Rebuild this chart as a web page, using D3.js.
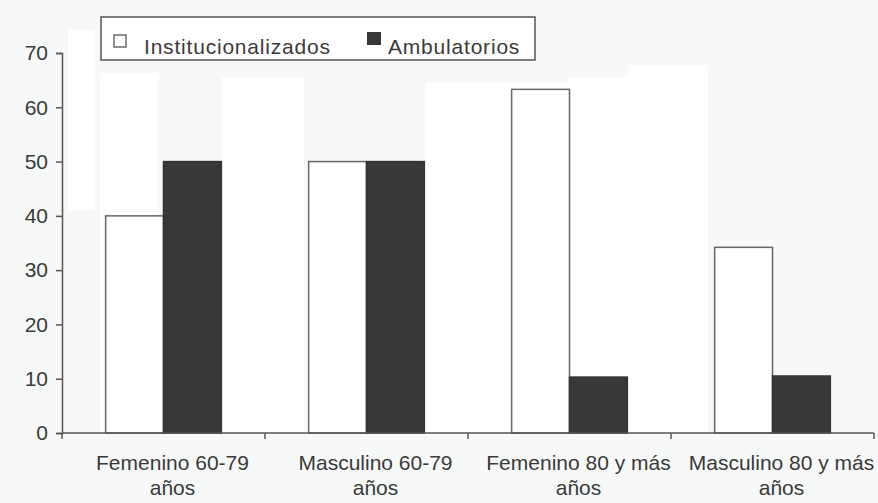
<!DOCTYPE html>
<html><head><meta charset="utf-8">
<script src="https://cdn.jsdelivr.net/npm/d3@7"></script>
<style>body{margin:0;background:#f6f9f7;}svg{display:block;}</style>
</head><body>
<script>
const categories = [["Femenino 60-79","años"],["Masculino 60-79","años"],["Femenino 80 y más","años"],["Masculino 80 y más","años"]];
const seriesNames = ["Institucionalizados","Ambulatorios"];
const institucionalizados = [40, 50, 63.3, 34.2];
const ambulatorios = [50, 50, 10.3, 10.5];
const yTicks = [0,10,20,30,40,50,60,70];

const W=878,H=503;
const svg=d3.select("body").append("svg").attr("width",W).attr("height",H);
svg.append("rect").attr("width",W).attr("height",H).attr("fill","#f6f9f7");
// scan white patches
[[68,30,27,180],[100,73,58,360],[222,77,82,356],[425,83,143,350],[568,77,60,356],[628,65,80,368]].forEach(p=>
  svg.append("rect").attr("x",p[0]).attr("y",p[1]).attr("width",p[2]).attr("height",p[3]).attr("fill","#ffffff"));

const x=d3.scaleBand().domain(d3.range(categories.length)).range([62,874]).paddingInner(0.43).paddingOuter(0.215);
const x1=d3.scaleBand().domain([0,1]).range([0,x.bandwidth()]);
const y=d3.scaleLinear().domain([0,70]).range([433,53]);
const font="Liberation Sans, Arial, sans-serif";
const ink="#3a3a3a";

const g=svg.append("g");
const data=categories.map((c,i)=>[institucionalizados[i],ambulatorios[i]]);
data.forEach((vals,i)=>{
  vals.forEach((v,j)=>{
    g.append("rect").attr("x",x(i)+x1(j)).attr("y",y(v)).attr("width",x1.bandwidth()).attr("height",y(0)-y(v))
     .attr("fill",j===0?"#ffffff":"#383838").attr("stroke",j===0?"#666":"#333").attr("stroke-width",1.5);
  });
});

// y axis
const ya=svg.append("g").attr("transform","translate(62,0)").call(d3.axisLeft(y).tickValues(yTicks).tickSize(6).tickPadding(8));
ya.attr("font-size",null).attr("font-family",null);
ya.selectAll("text").style("font-family",font).style("font-size","21px").attr("fill",ink);
ya.selectAll("line,path").attr("stroke","#555").attr("stroke-width",1.5);

// x axis line with ticks at category boundaries
const xa=svg.append("g");
xa.append("line").attr("x1",62).attr("x2",874).attr("y1",y(0)).attr("y2",y(0)).attr("stroke","#555").attr("stroke-width",1.5);
const step=x.step();
d3.range(categories.length+1).forEach(k=>{
  const xx=x(0)-x.paddingOuter()*step+k*step;
  xa.append("line").attr("x1",xx).attr("x2",xx).attr("y1",y(0)).attr("y2",y(0)+6).attr("stroke","#555").attr("stroke-width",1.5);
});
categories.forEach((c,i)=>{
  const cx=x(i)+x.bandwidth()/2+9;
  const t=xa.append("text").attr("x",cx).attr("y",470).attr("text-anchor","middle")
    .style("font-family",font).style("font-size","21px").attr("fill",ink);
  c.forEach((line,k)=>t.append("tspan").attr("x",cx).attr("dy",k===0?0:25).text(line));
});

// legend
const lg=svg.append("g");
lg.append("rect").attr("x",101).attr("y",17).attr("width",434).attr("height",43).attr("fill","#ffffff").attr("stroke","#555").attr("stroke-width",1.5);
lg.append("rect").attr("x",114).attr("y",35).attr("width",12).attr("height",12).attr("fill","#fff").attr("stroke","#555").attr("stroke-width",1.3);
lg.append("text").attr("x",144).attr("y",54).text(seriesNames[0]).style("font-family",font).style("font-size","21px").style("letter-spacing","0.8px").attr("fill",ink);
lg.append("rect").attr("x",367).attr("y",32).attr("width",14).attr("height",13).attr("fill","#383838");
lg.append("text").attr("x",388).attr("y",54).text(seriesNames[1]).style("font-family",font).style("font-size","21px").style("letter-spacing","0.8px").attr("fill",ink);
</script>
</body></html>
